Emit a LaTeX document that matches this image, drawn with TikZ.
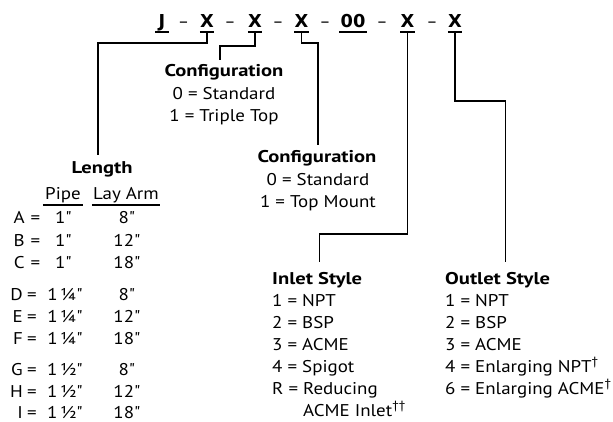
\documentclass[tikz,border=0pt]{standalone}
\usepackage{fontspec}
\setmainfont{PT Sans}[Ligatures=TeXOff, FakeStretch=1.115, BoldFeatures={FakeStretch=1.21}]
\newfontfamily\codefont{DejaVu Sans}
\begin{document}
\begin{tikzpicture}[x=1pt,y=-1pt,
  txt/.style={inner sep=0pt, anchor=base, font=\fontsize{17}{19}\selectfont},
  txtw/.style={txt, anchor=base west},
  hdr/.style={inner sep=0pt, anchor=base, font=\fontsize{17}{19}\selectfont\bfseries},
  code/.style={inner sep=0pt, anchor=base, font=\fontsize{17.8}{20}\codefont\bfseries},
  dsh/.style={inner sep=0pt, anchor=base, font=\fontsize{17.8}{20}\codefont},
  conn/.style={line width=1.2pt},
  uline/.style={line width=2.4pt},
  tline/.style={line width=1.1pt},
]
\useasboundingbox (0,0) rectangle (613,422);

% ---- code line
\node[code, minimum width=13pt] (cj) at (162,28) {J};
\node[code, minimum width=14pt] (c1) at (207,28) {X};
\node[code, minimum width=14pt] (c2) at (255,28) {X};
\node[code, minimum width=14pt] (c3) at (301.5,28) {X};
\node[code, minimum width=27pt] (c0) at (353,28) {00};
\node[code, minimum width=14pt] (c4) at (407.5,28) {X};
\node[code, minimum width=14pt] (c5) at (455,28) {X};
\node[dsh] (d1) at (183.5,28) {–};
\node[dsh] (d2) at (230,28) {–};
\node[dsh] (d3) at (278,28) {–};
\node[dsh] (d4) at (325,28) {–};
\node[dsh] (d5) at (382,28) {–};
\node[dsh] (d6) at (432,28) {–};
\foreach \n in {cj,c1,c2,c3,c0,c4,c5}
  \draw[uline] ([yshift=-4pt]\n.base west) -- ([yshift=-4pt]\n.base east);

% ---- Configuration (triple top)
\node[hdr] (cfa) at (224,77) {Configuration};
\node[txt] (cfa1) at (224,99.5) {0 = Standard};
\node[txt] (cfa2) at (224,121.5) {1 = Triple Top};

% ---- Configuration (top mount)
\node[hdr] (cfb) at (317,163) {Configuration};
\node[txt] (cfb1) at (318,185.5) {0 = Standard};
\node[txt] (cfb2) at (318,207.5) {1 = Top Mount};

% ---- Inlet style
\node[hdr, anchor=base west] (inl) at (272,284) {Inlet Style};
\node[txtw] (in1) at (272,306) {1 = NPT};
\node[txtw] (in2) at (272,328) {2 = BSP};
\node[txtw] (in3) at (272,350) {3 = ACME};
\node[txtw] (in4) at (272,372) {4 = Spigot};
\node[txtw] (in5) at (272,394) {R = Reducing};
\node[txtw] (in6) at (272,416) {\phantom{R = }ACME Inlet\textsuperscript{††}};

% ---- Outlet style
\node[hdr, anchor=base west] (outl) at (445,284) {Outlet Style};
\node[txtw] (out1) at (445,306) {1 = NPT};
\node[txtw] (out2) at (445,328) {2 = BSP};
\node[txtw] (out3) at (445,350) {3 = ACME};
\node[txtw] (out4) at (445,372) {4 = Enlarging NPT\textsuperscript{†}};
\node[txtw] (out5) at (445,394) {6 = Enlarging ACME\textsuperscript{†}};

% ---- Length
\node[hdr] (len) at (102,174) {Length};
\node[txt, minimum width=40pt] (pipe) at (63,200) {Pipe};
\node[txt, minimum width=68pt] (lay) at (126,200) {Lay Arm};
\draw[tline] ([yshift=-5pt]pipe.base west) -- ([yshift=-5pt]pipe.base east);
\draw[tline] ([yshift=-5pt]lay.base west) -- ([yshift=-5pt]lay.base east);

\foreach \l/\p/\a/\y in {A/1"/8"/224, B/1"/12"/246.5, C/1"/18"/268}{
  \node[txt, anchor=base east] at (25,\y) {\l};
  \node[txt] at (35.5,\y) {=};
  \node[txt] at (63.5,\y) {\p};
  \node[txt] at (127,\y) {\a};
}
\foreach \l/\p/\a/\y in {D/1\,¼"/8"/300, E/1\,¼"/12"/322, F/1\,¼"/18"/344,
                          G/1\,½"/8"/375, H/1\,½"/12"/397, I/1\,½"/18"/418}{
  \node[txt, anchor=base east] at (23,\y) {\l};
  \node[txt] at (32,\y) {=};
  \node[txt] at (65,\y) {\p};
  \node[txt] at (127,\y) {\a};
}

% ---- connectors
\draw[conn, shorten >=7pt] ([yshift=-4pt]c1.base) -- ++(0,11) -| ([xshift=-4pt]len.north);
\draw[conn, shorten >=5pt] ([yshift=-4pt]c2.base) -- ++(0,14) -| ([xshift=-4pt]cfa.north);
\draw[conn, shorten >=6pt] ([yshift=-4pt]c3.base) -- ++(0,11) -| ([xshift=1pt]cfb.north);
\draw[conn, shorten >=10pt] ([yshift=-4pt]c4.base) -- ++(0,202) -| ([xshift=2pt]inl.north);
\draw[conn, shorten >=10pt] ([yshift=-4pt]c5.base) -- ++(0,69) -| ([xshift=8pt]outl.north);
\end{tikzpicture}
\end{document}
